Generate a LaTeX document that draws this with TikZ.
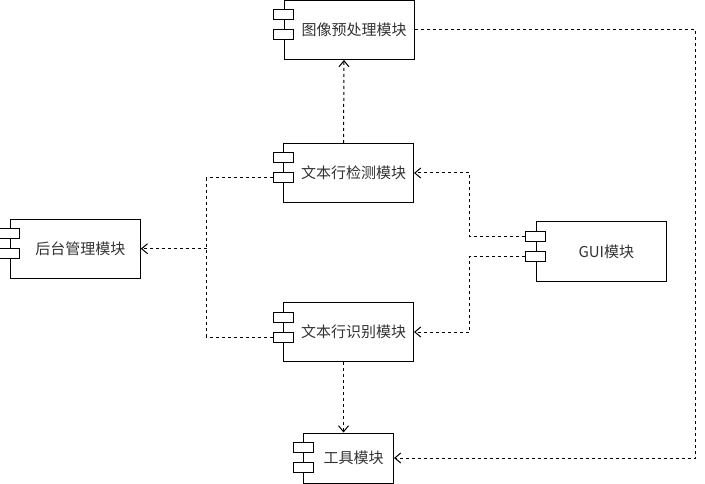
\documentclass[tikz,border=0pt]{standalone}
\usepackage{fontspec}
\setmainfont{Noto Sans CJK SC}
\usetikzlibrary{arrows.meta}

\begin{document}
\begin{tikzpicture}[x=0.75pt,y=-0.75pt,line join=miter,
  comp/.style={draw=black,fill=white,line width=0.75pt,minimum width=97.5pt,minimum height=44.25pt,inner sep=0pt,text=black!80,font=\fontsize{11.25pt}{13.5pt}\selectfont,execute at begin node={\hspace*{7.5pt}}},
  port/.style={draw=black,fill=white,line width=0.75pt,minimum width=15pt,minimum height=7.5pt,inner sep=0pt},
  wire/.style={black,line width=0.75pt,dash pattern=on 2.25pt off 2.25pt},
  dep/.style={wire,-{Straight Barb[length=4.5pt,width=7.5pt,line width=0.75pt]}}]
\useasboundingbox (0,0) rectangle (705,484);
% components
\node[comp] (pre) at (349,30) {图像预处理模块};
\node[comp] (det) at (348.5,173) {文本行检测模块};
\node[comp] (rec) at (348.5,332) {文本行识别模块};
\node[comp] (bg) at (75.3,248.7) {后台管理模块};
\node[comp] (gui) at (601.3,251.5) {GUI模块};
\node[comp,minimum width=67.5pt,minimum height=37.5pt] (tool) at (348.5,458) {工具模块};
% ports
\node[port] (preP1) at ([yshift=-11.25pt]pre.north west) {};
\node[port] (preP2) at ([yshift=-26.25pt]pre.north west) {};
\node[port] (detP1) at ([yshift=-11.25pt]det.north west) {};
\node[port] (detP2) at ([yshift=-26.25pt]det.north west) {};
\node[port] (recP1) at ([yshift=-11.25pt]rec.north west) {};
\node[port] (recP2) at ([yshift=-26.25pt]rec.north west) {};
\node[port] (bgP1) at ([yshift=-11.25pt]bg.north west) {};
\node[port] (bgP2) at ([yshift=-26.25pt]bg.north west) {};
\node[port] (guiP1) at ([yshift=-11.25pt]gui.north west) {};
\node[port] (guiP2) at ([yshift=-26.25pt]gui.north west) {};
\node[port] (toolP1) at ([yshift=-11.25pt]tool.north west) {};
\node[port] (toolP2) at ([yshift=-26.25pt]tool.north west) {};
% bends
\coordinate (jn) at (206.5,248.7);
\coordinate (gx) at (469.7,0);
\coordinate (rt) at (695.7,0);
% dependencies
\draw[dep] ([xshift=-3.75pt]det.north) -- ([xshift=-3.75pt]pre.south);
\draw[dep] ([xshift=-3.75pt]rec.south) -- ([xshift=-3.75pt]tool.north);
\draw[dep] (pre.east) -- (pre.east -| rt) |- (tool.east);
\draw[dep] (guiP1.west) -- (guiP1.west -| gx) |- (det.east);
\draw[dep] (guiP2.west) -- (guiP2.west -| gx) |- (rec.east);
\draw[wire] (detP2.west) -| (jn);
\draw[wire] (recP2.west) -| (jn);
\draw[dep] (jn) -- (bg.east);
\end{tikzpicture}
\end{document}
